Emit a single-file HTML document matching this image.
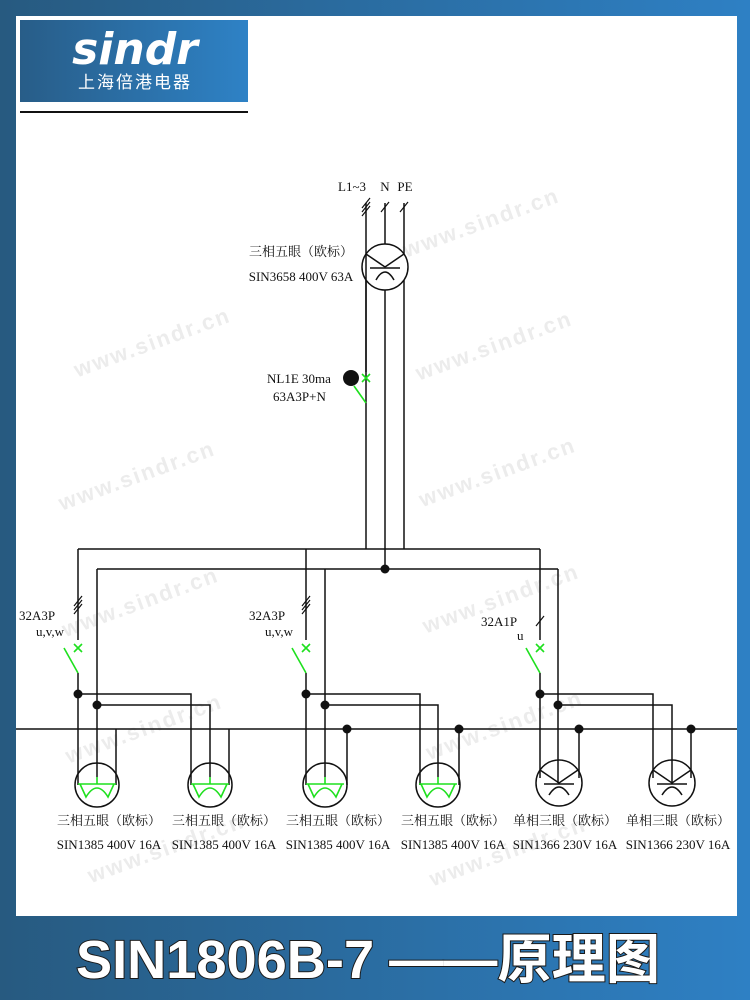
<!DOCTYPE html>
<html><head><meta charset="utf-8"><style>
html,body{margin:0;padding:0;width:750px;height:1000px;overflow:hidden;background:#2a5f8c}
svg{display:block}
.t{font-family:"Liberation Serif","Noto Serif CJK SC",serif;font-size:13px;fill:#111}
.wm{font-family:"Liberation Sans",sans-serif;font-size:22px;fill:#ececec;font-weight:bold;letter-spacing:2px}
</style></head><body>
<svg width="750" height="1000" viewBox="0 0 750 1000" xmlns="http://www.w3.org/2000/svg">
<defs>
<linearGradient id="bg" x1="0" x2="1" y1="0" y2="0"><stop offset="0" stop-color="#275a80"/><stop offset="1" stop-color="#2e80c4"/></linearGradient>
<linearGradient id="lg" x1="0" x2="1"><stop offset="0" stop-color="#285d88"/><stop offset="1" stop-color="#2e82c6"/></linearGradient>
<clipPath id="wa"><rect x="16" y="16" width="721" height="900"/></clipPath>
</defs>
<rect width="750" height="1000" fill="url(#bg)"/>
<rect x="16" y="16" width="721" height="900" fill="#fff"/>
<g clip-path="url(#wa)">
<g transform="rotate(-20 375 450)">
<text class="wm" x="120" y="280">www.sindr.cn</text><text class="wm" x="470" y="280">www.sindr.cn</text>
<text class="wm" x="60" y="400">www.sindr.cn</text><text class="wm" x="440" y="400">www.sindr.cn</text>
<text class="wm" x="20" y="520">www.sindr.cn</text><text class="wm" x="400" y="520">www.sindr.cn</text>
<text class="wm" x="-20" y="640">www.sindr.cn</text><text class="wm" x="360" y="640">www.sindr.cn</text>
<text class="wm" x="-40" y="760">www.sindr.cn</text><text class="wm" x="320" y="760">www.sindr.cn</text>
<text class="wm" x="-60" y="880">www.sindr.cn</text><text class="wm" x="280" y="880">www.sindr.cn</text>
</g>
</g>
<rect x="20" y="20" width="228" height="82" fill="url(#lg)"/>
<text x="135" y="64" text-anchor="middle" font-family="DejaVu Sans,sans-serif" font-size="44" fill="#fff" font-weight="bold" font-style="italic">sindr</text>
<text x="135" y="88" text-anchor="middle" font-family="Noto Sans CJK SC,sans-serif" font-size="17" fill="#fff" letter-spacing="2">上海倍港电器</text>
<rect x="20" y="111" width="228" height="2" fill="#111"/>
<g stroke="#111" stroke-width="1.5" fill="none">
<line x1="366" y1="203" x2="366" y2="549"/><line x1="385" y1="203" x2="385" y2="569"/><line x1="404" y1="203" x2="404" y2="549"/>
<circle cx="385" cy="267" r="23" fill="#fff"/>
<line x1="366" y1="254" x2="385" y2="267"/><line x1="404" y1="254" x2="385" y2="267"/>
<line x1="370" y1="268" x2="400" y2="268"/><path d="M376,280 Q385,264 394,280"/>
<line x1="366" y1="254" x2="366" y2="372"/>
<line x1="78" y1="549" x2="540" y2="549"/><line x1="97" y1="569" x2="558" y2="569"/>
<line x1="16" y1="729" x2="737" y2="729"/>
<line x1="78" y1="549" x2="78" y2="640"/><line x1="78" y1="673" x2="78" y2="785"/>
<line x1="97" y1="569" x2="97" y2="777"/><line x1="116" y1="729" x2="116" y2="785"/>
<polyline points="78,694 191,694 191,785"/><polyline points="97,705 210,705 210,777"/><line x1="229" y1="729" x2="229" y2="785"/>
<line x1="306" y1="549" x2="306" y2="640"/><line x1="306" y1="673" x2="306" y2="785"/>
<line x1="325" y1="569" x2="325" y2="777"/><line x1="347" y1="729" x2="347" y2="785"/>
<polyline points="306,694 420,694 420,785"/><polyline points="325,705 438,705 438,777"/><line x1="459" y1="729" x2="459" y2="785"/>
<line x1="540" y1="549" x2="540" y2="640"/><line x1="540" y1="673" x2="540" y2="778"/>
<line x1="558" y1="569" x2="558" y2="783"/><line x1="579" y1="729" x2="579" y2="778"/>
<polyline points="540,694 653,694 653,778"/><polyline points="558,705 672,705 672,783"/><line x1="691" y1="729" x2="691" y2="778"/>
<g stroke-width="1.2">
<line x1="362" y1="212" x2="370" y2="202"/><line x1="362" y1="216" x2="370" y2="206"/><line x1="362" y1="208" x2="370" y2="198"/>
<line x1="381" y1="212" x2="389" y2="202"/><line x1="400" y1="212" x2="408" y2="202"/>
<line x1="74" y1="610" x2="82" y2="600"/><line x1="74" y1="614" x2="82" y2="604"/><line x1="74" y1="606" x2="82" y2="596"/>
<line x1="302" y1="610" x2="310" y2="600"/><line x1="302" y1="614" x2="310" y2="604"/><line x1="302" y1="606" x2="310" y2="596"/>
<line x1="536" y1="626" x2="544" y2="616"/>
</g>
</g>
<g fill="#111">
<circle cx="351" cy="378" r="8"/><circle cx="385" cy="569" r="4.5"/>
<circle cx="78" cy="694" r="4.5"/><circle cx="97" cy="705" r="4.5"/>
<circle cx="306" cy="694" r="4.5"/><circle cx="325" cy="705" r="4.5"/><circle cx="347" cy="729" r="4.5"/><circle cx="459" cy="729" r="4.5"/>
<circle cx="540" cy="694" r="4.5"/><circle cx="558" cy="705" r="4.5"/><circle cx="579" cy="729" r="4.5"/><circle cx="691" cy="729" r="4.5"/>
</g>
<g stroke="#1ee01e" stroke-width="1.6" fill="none">
<path d="M362,374 l8,8 M370,374 l-8,8"/><line x1="354" y1="386" x2="366" y2="403"/>
<path d="M74,644 l8,8 M82,644 l-8,8"/><line x1="64" y1="648" x2="78" y2="673"/>
<path d="M302,644 l8,8 M310,644 l-8,8"/><line x1="292" y1="648" x2="306" y2="673"/>
<path d="M536,644 l8,8 M544,644 l-8,8"/><line x1="526" y1="648" x2="540" y2="673"/>
</g>
<g stroke="#111" stroke-width="1.5" fill="none">
<circle cx="97" cy="785" r="22"/><circle cx="210" cy="785" r="22"/><circle cx="325" cy="785" r="22"/><circle cx="438" cy="785" r="22"/>
<circle cx="559" cy="783" r="23"/><circle cx="672" cy="783" r="23"/>
</g>
<g stroke="#1ee01e" stroke-width="1.6" fill="none">
<path id="g3" d="M78,784 H116 M97,777 V784 M80,784 L86,797 Q97,779 108,797 L114,784"/>
<use href="#g3" x="113"/><use href="#g3" x="228"/><use href="#g3" x="341"/>
</g>
<g stroke="#111" stroke-width="1.5" fill="none">
<path id="g1" d="M540,770 L559,783 L578,770 M544,784 H574 M549,795 Q559,779 569,795"/>
<use href="#g1" x="113"/>
</g>
<text class="t" x="366" y="191" text-anchor="end">L1~3</text><text class="t" x="385" y="191" text-anchor="middle">N</text><text class="t" x="405" y="191" text-anchor="middle">PE</text>
<text class="t" x="301" y="256" text-anchor="middle">三相五眼（欧标）</text>
<text class="t" x="301" y="281" text-anchor="middle">SIN3658 400V 63A</text>
<text class="t" x="267" y="383">NL1E 30ma</text><text class="t" x="273" y="401">63A3P+N</text>
<text class="t" x="19" y="620">32A3P</text><text class="t" x="36" y="636" font-size="12">u,v,w</text>
<text class="t" x="249" y="620">32A3P</text><text class="t" x="265" y="636" font-size="12">u,v,w</text>
<text class="t" x="481" y="626">32A1P</text><text class="t" x="517" y="640" font-size="12">u</text>
<g class="t" text-anchor="middle">
<text x="109" y="825">三相五眼（欧标）</text><text x="109" y="849">SIN1385 400V 16A</text>
<text x="224" y="825">三相五眼（欧标）</text><text x="224" y="849">SIN1385 400V 16A</text>
<text x="338" y="825">三相五眼（欧标）</text><text x="338" y="849">SIN1385 400V 16A</text>
<text x="453" y="825">三相五眼（欧标）</text><text x="453" y="849">SIN1385 400V 16A</text>
<text x="565" y="825">单相三眼（欧标）</text><text x="565" y="849">SIN1366 230V 16A</text>
<text x="678" y="825">单相三眼（欧标）</text><text x="678" y="849">SIN1366 230V 16A</text>
</g>
<text x="76" y="978" textLength="584" lengthAdjust="spacingAndGlyphs" font-family="Liberation Sans,Noto Sans CJK SC,sans-serif" font-size="54" font-weight="bold" fill="#fff" stroke="#1a1a1a" stroke-width="2" paint-order="stroke">SIN1806B-7 ——原理图</text>
</svg>
</body></html>
